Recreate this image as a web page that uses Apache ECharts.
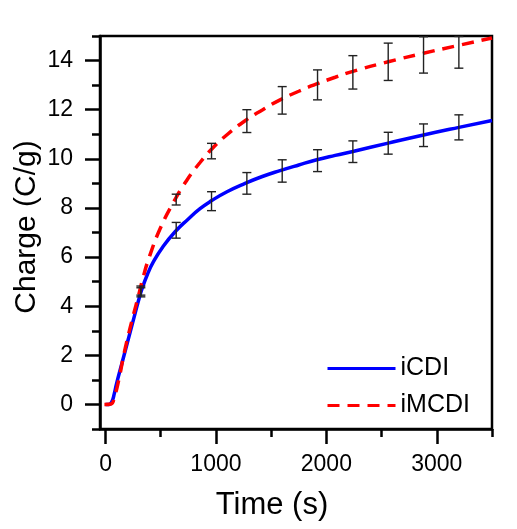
<!DOCTYPE html>
<html>
<head>
<meta charset="utf-8">
<script src="https://cdn.jsdelivr.net/npm/echarts@6/dist/echarts.min.js"></script>
<style>
  html, body { margin: 0; padding: 0; background: #fff; }
  #main { width: 517px; height: 529px; }
</style>
</head>
<body>
<div id="main"></div>
<script>
// fitted curves, [time s, charge C/g]
const icdiCurve = [
  [0, 0], [30, 0], [56, 0.1], [80, 0.45], [100, 0.85], [150, 1.7], [200, 2.55],
  [250, 3.4], [297, 4.2], [330, 4.7], [380, 5.3], [433, 5.8], [520, 6.42],
  [630, 7.03], [750, 7.55], [856, 7.97], [962, 8.3], [1100, 8.66], [1264, 9.0],
  [1420, 9.28], [1581, 9.52], [1750, 9.75], [1913, 9.96], [2080, 10.14],
  [2240, 10.3], [2560, 10.64], [2880, 10.97], [3200, 11.28], [3500, 11.56]
]
const imcdiCurve = [
  [-10, 0], [50, 0.02], [80, 0.3], [120, 1.0], [160, 1.9], [200, 2.7], [250, 3.6],
  [300, 4.45], [342, 5.2], [400, 6.05], [494, 7.15], [614, 8.22], [735, 9.12],
  [856, 9.85], [962, 10.4], [1100, 10.98], [1264, 11.55], [1420, 11.99],
  [1581, 12.4], [1750, 12.75], [1913, 13.05], [2080, 13.32], [2240, 13.56],
  [2560, 13.95], [2880, 14.3], [3200, 14.62], [3500, 14.92]
]

// error bars, [time, low, high]
const icdiErr = [
  [320, 4.38, 4.75], [640, 6.77, 7.41], [960, 7.89, 8.66], [1280, 8.56, 9.44],
  [1600, 9.05, 9.96], [1920, 9.48, 10.37], [2240, 9.85, 10.73], [2560, 10.19, 11.08],
  [2880, 10.5, 11.42], [3200, 10.77, 11.79]
]
const imcdiErr = [
  [320, 4.45, 4.82], [640, 8.12, 8.56], [960, 10.0, 10.63], [1280, 11.07, 12.0],
  [1600, 11.82, 12.94], [1920, 12.4, 13.62], [2240, 12.84, 14.2], [2560, 13.19, 14.71],
  [2880, 13.49, 14.97], [3200, 13.69, 14.98]
]

const xMajor = [0, 1000, 2000, 3000]
const xMinor = [500, 1500, 2500, 3500]
const yMajor = [0, 2, 4, 6, 8, 10, 12, 14]
const yMinor = [-1, 1, 3, 5, 7, 9, 11, 13, 15]

const font = 'Liberation Sans, Arial, sans-serif'
const axisW = 2.5

function errBar(params, api) {
  const x = api.value(0)
  const lo = api.coord([x, api.value(1)])
  const hi = api.coord([x, api.value(2)])
  const w = 4.5
  const style = { stroke: '#222', lineWidth: 1.4 }
  return {
    type: 'group',
    children: [
      { type: 'line', shape: { x1: lo[0], y1: lo[1], x2: hi[0], y2: hi[1] }, style },
      { type: 'line', shape: { x1: lo[0] - w, y1: lo[1], x2: lo[0] + w, y2: lo[1] }, style },
      { type: 'line', shape: { x1: hi[0] - w, y1: hi[1], x2: hi[0] + w, y2: hi[1] }, style }
    ]
  }
}

const chart = echarts.init(document.getElementById('main'))

const option = {
  animation: false,
  backgroundColor: '#fff',
  grid: {
    left: 100, right: 25, top: 36, bottom: 100,
    show: true, borderColor: '#000', borderWidth: axisW, backgroundColor: 'transparent'
  },
  legend: {
    orient: 'vertical',
    left: 321,
    top: 351,
    itemWidth: 68,
    itemHeight: 14,
    itemGap: 12,
    itemStyle: { opacity: 0 },
    lineStyle: { width: 3 },
    data: ['iCDI', 'iMCDI'],
    textStyle: { fontFamily: font, fontSize: 25, lineHeight: 24, color: '#000' }
  },
  xAxis: [
    {
      type: 'value', min: -50, max: 3500, position: 'bottom',
      axisLine: { onZero: false, lineStyle: { color: '#000', width: axisW } },
      axisTick: { customValues: xMajor, length: 15, lineStyle: { color: '#000', width: axisW } },
      axisLabel: { customValues: xMajor, margin: 24, fontFamily: font, fontSize: 23, color: '#000', formatter: v => String(v) },
      splitLine: { show: false }
    },
    {
      type: 'value', min: -50, max: 3500, position: 'bottom',
      axisLine: { show: false, onZero: false },
      axisTick: { customValues: xMinor, length: 8, lineStyle: { color: '#000', width: axisW } },
      axisLabel: { show: false },
      splitLine: { show: false }
    }
  ],
  yAxis: [
    {
      type: 'value', min: -1, max: 15, position: 'left',
      axisLine: { onZero: false, lineStyle: { color: '#000', width: axisW } },
      axisTick: { customValues: yMajor, length: 15, lineStyle: { color: '#000', width: axisW } },
      axisLabel: { customValues: yMajor, margin: 27, fontFamily: font, fontSize: 23, color: '#000', formatter: v => String(v) },
      splitLine: { show: false }
    },
    {
      type: 'value', min: -1, max: 15, position: 'left',
      axisLine: { show: false, onZero: false },
      axisTick: { customValues: yMinor, length: 8, lineStyle: { color: '#000', width: axisW } },
      axisLabel: { show: false },
      splitLine: { show: false }
    }
  ],
  graphic: [
    {
      type: 'text', x: 272, y: 505,
      style: { text: 'Time (s)', font: '31px ' + font, fill: '#000', textAlign: 'center', textVerticalAlign: 'middle' }
    },
    {
      type: 'text', x: 27, y: 227, rotation: Math.PI / 2,
      style: { text: 'Charge (C/g)', font: '30px ' + font, fill: '#000', textAlign: 'center', textVerticalAlign: 'middle' }
    }
  ],
  series: [
    {
      name: 'iCDI', type: 'line', data: icdiCurve,
      showSymbol: false, symbol: 'none', smooth: 0.5,
      lineStyle: { color: '#0000ff', width: 3.5 }, itemStyle: { color: '#0000ff' }, z: 2
    },
    {
      name: 'iMCDI', type: 'line', data: imcdiCurve,
      showSymbol: false, symbol: 'none', smooth: 0.5,
      lineStyle: { color: '#ff0000', width: 3.5, type: [12, 8] }, itemStyle: { color: '#ff0000' }, z: 2
    },
    { type: 'custom', renderItem: errBar, data: icdiErr, encode: { x: 0, y: [1, 2] }, z: 3, clip: false },
    { type: 'custom', renderItem: errBar, data: imcdiErr, encode: { x: 0, y: [1, 2] }, z: 3, clip: false }
  ]
}

chart.setOption(option)
</script>
</body>
</html>
